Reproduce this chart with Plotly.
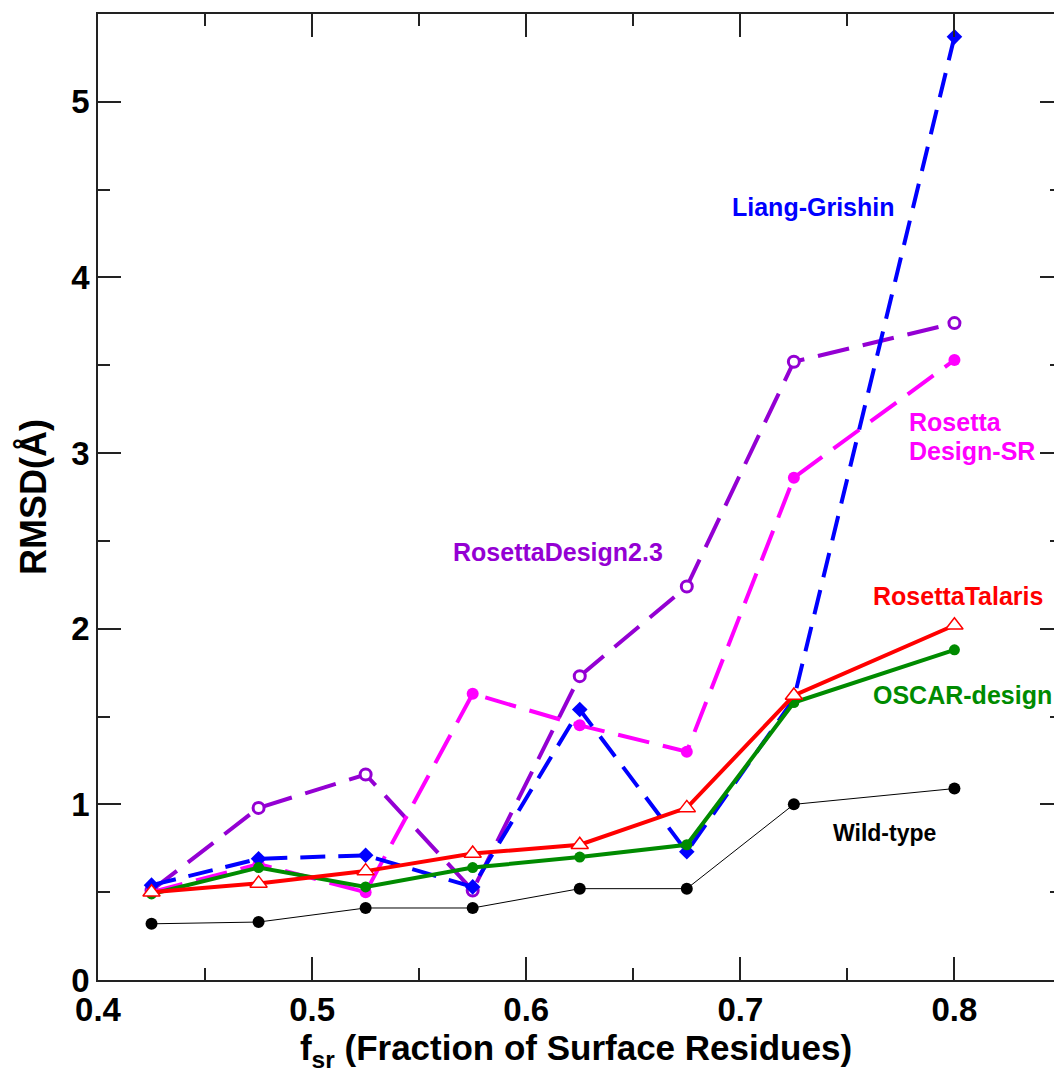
import plotly.graph_objects as go

# Fraction of surface residues (bin centres)
f_sr = [0.425, 0.475, 0.525, 0.575, 0.625, 0.675, 0.725, 0.8]

# RMSD (Å) per design method
wild_type = [0.32, 0.33, 0.41, 0.41, 0.52, 0.52, 1.00, 1.09]
rosetta_talaris = [0.50, 0.55, 0.62, 0.72, 0.77, 0.98, 1.62, 2.02]
oscar_design = [0.49, 0.64, 0.53, 0.64, 0.70, 0.77, 1.58, 1.88]
liang_grishin = [0.54, 0.69, 0.71, 0.53, 1.54, 0.73, 1.60, 5.37]
rosetta_design23 = [0.51, 0.98, 1.17, 0.51, 1.73, 2.24, 3.52, 3.74]
rosetta_design_sr = [0.50, 0.66, 0.50, 1.63, 1.45, 1.30, 2.86, 3.53]

FONT = "Liberation Sans, Arial, Helvetica, sans-serif"
AXIS_COLOR = "#222222"

VIOLET = "rgb(148,0,211)"
MAGENTA = "rgb(255,0,255)"
BLUE = "rgb(0,0,255)"
GREEN = "rgb(0,139,0)"
RED = "rgb(255,0,0)"

fig = go.Figure()

fig.add_trace(go.Scatter(
    x=f_sr, y=wild_type, mode="lines+markers", name="Wild-type",
    line=dict(color="black", width=1),
    marker=dict(symbol="circle", size=12, color="black"),
))
fig.add_trace(go.Scatter(
    x=f_sr, y=rosetta_design23, mode="lines+markers", name="RosettaDesign2.3",
    line=dict(color=VIOLET, width=4, dash="32px,14px"),
    marker=dict(symbol="circle", size=11, color="white",
                line=dict(color=VIOLET, width=3)),
))
fig.add_trace(go.Scatter(
    x=f_sr, y=rosetta_design_sr, mode="lines+markers", name="RosettaDesign-SR",
    line=dict(color=MAGENTA, width=4, dash="32px,14px"),
    marker=dict(symbol="circle", size=12, color=MAGENTA),
))
fig.add_trace(go.Scatter(
    x=f_sr, y=liang_grishin, mode="lines+markers", name="Liang-Grishin",
    line=dict(color=BLUE, width=4, dash="25px,13px"),
    marker=dict(symbol="diamond", size=12, color=BLUE),
))
fig.add_trace(go.Scatter(
    x=f_sr, y=oscar_design, mode="lines+markers", name="OSCAR-design",
    line=dict(color=GREEN, width=4),
    marker=dict(symbol="circle", size=11, color=GREEN),
))
fig.add_trace(go.Scatter(
    x=f_sr, y=rosetta_talaris, mode="lines+markers", name="RosettaTalaris",
    line=dict(color=RED, width=4),
    marker=dict(symbol="triangle-up", size=15, color="white",
                line=dict(color=RED, width=1.5)),
))
# carries the right-hand tick marks
fig.add_trace(go.Scatter(x=[], y=[], yaxis="y2", showlegend=False,
                         hoverinfo="skip"))

labels = [
    dict(text="Liang-Grishin", x=0.7341, y=4.40, color=BLUE, xanchor="center", size=25),
    dict(text="RosettaDesign2.3", x=0.615, y=2.436, color=VIOLET, xanchor="center", size=25),
    dict(text="Rosetta", x=0.778, y=3.178, color=MAGENTA, xanchor="left", size=25),
    dict(text="Design-SR", x=0.778, y=3.01, color=MAGENTA, xanchor="left", size=25),
    dict(text="RosettaTalaris", x=0.7612, y=2.186, color=RED, xanchor="left", size=25),
    dict(text="OSCAR-design", x=0.7612, y=1.625, color=GREEN, xanchor="left", size=25),
    dict(text="Wild-type", x=0.7425, y=0.838, color="black", xanchor="left", size=23),
]
for lb in labels:
    fig.add_annotation(
        x=lb["x"], y=lb["y"], xref="x", yref="y", text=lb["text"],
        showarrow=False, xanchor=lb["xanchor"], yanchor="middle",
        font=dict(family=FONT, size=lb["size"], color=lb["color"], weight="bold"),
    )

tick_font = dict(family=FONT, size=33, color="black", weight="bold")

fig.update_layout(
    width=1054, height=1078,
    margin=dict(l=98, r=0, t=14, b=98),
    paper_bgcolor="white", plot_bgcolor="white",
    showlegend=False,
    xaxis=dict(
        range=[0.4, 0.8465], dtick=0.1, tick0=0.4, tickformat=".1f",
        ticks="inside", ticklen=23, tickwidth=1.5, tickcolor=AXIS_COLOR,
        showline=True, linecolor=AXIS_COLOR, linewidth=1.5, mirror="ticks",
        showgrid=False, zeroline=False,
        minor=dict(dtick=0.05, ticks="inside", ticklen=12, tickwidth=1.5,
                   tickcolor=AXIS_COLOR, showgrid=False),
        tickfont=tick_font,
        title=dict(text="f<sub>sr</sub> (Fraction of Surface Residues)",
                   font=dict(family=FONT, size=35, color="black", weight="bold"),
                   standoff=8),
    ),
    yaxis=dict(
        range=[0, 5.5], dtick=1, tick0=0,
        ticks="inside", ticklen=23, tickwidth=1.5, tickcolor=AXIS_COLOR,
        showline=True, linecolor=AXIS_COLOR, linewidth=1.5, mirror=False,
        showgrid=False, zeroline=False,
        minor=dict(dtick=0.5, ticks="inside", ticklen=12, tickwidth=1.5,
                   tickcolor=AXIS_COLOR, showgrid=False),
        tickfont=tick_font,
        title=dict(text="RMSD(Å)",
                   font=dict(family=FONT, size=36, color="black", weight="bold"),
                   standoff=14),
    ),
    yaxis2=dict(
        overlaying="y", side="right", anchor="x", matches="y",
        range=[0, 5.5], dtick=1, tick0=0,
        ticks="inside", ticklen=14, tickwidth=1.5, tickcolor=AXIS_COLOR,
        showline=False, showgrid=False, zeroline=False, showticklabels=False,
        minor=dict(dtick=0.5, ticks="inside", ticklen=4, tickwidth=1.5,
                   tickcolor=AXIS_COLOR, showgrid=False),
    ),
)

fig.write_html("out.html")
